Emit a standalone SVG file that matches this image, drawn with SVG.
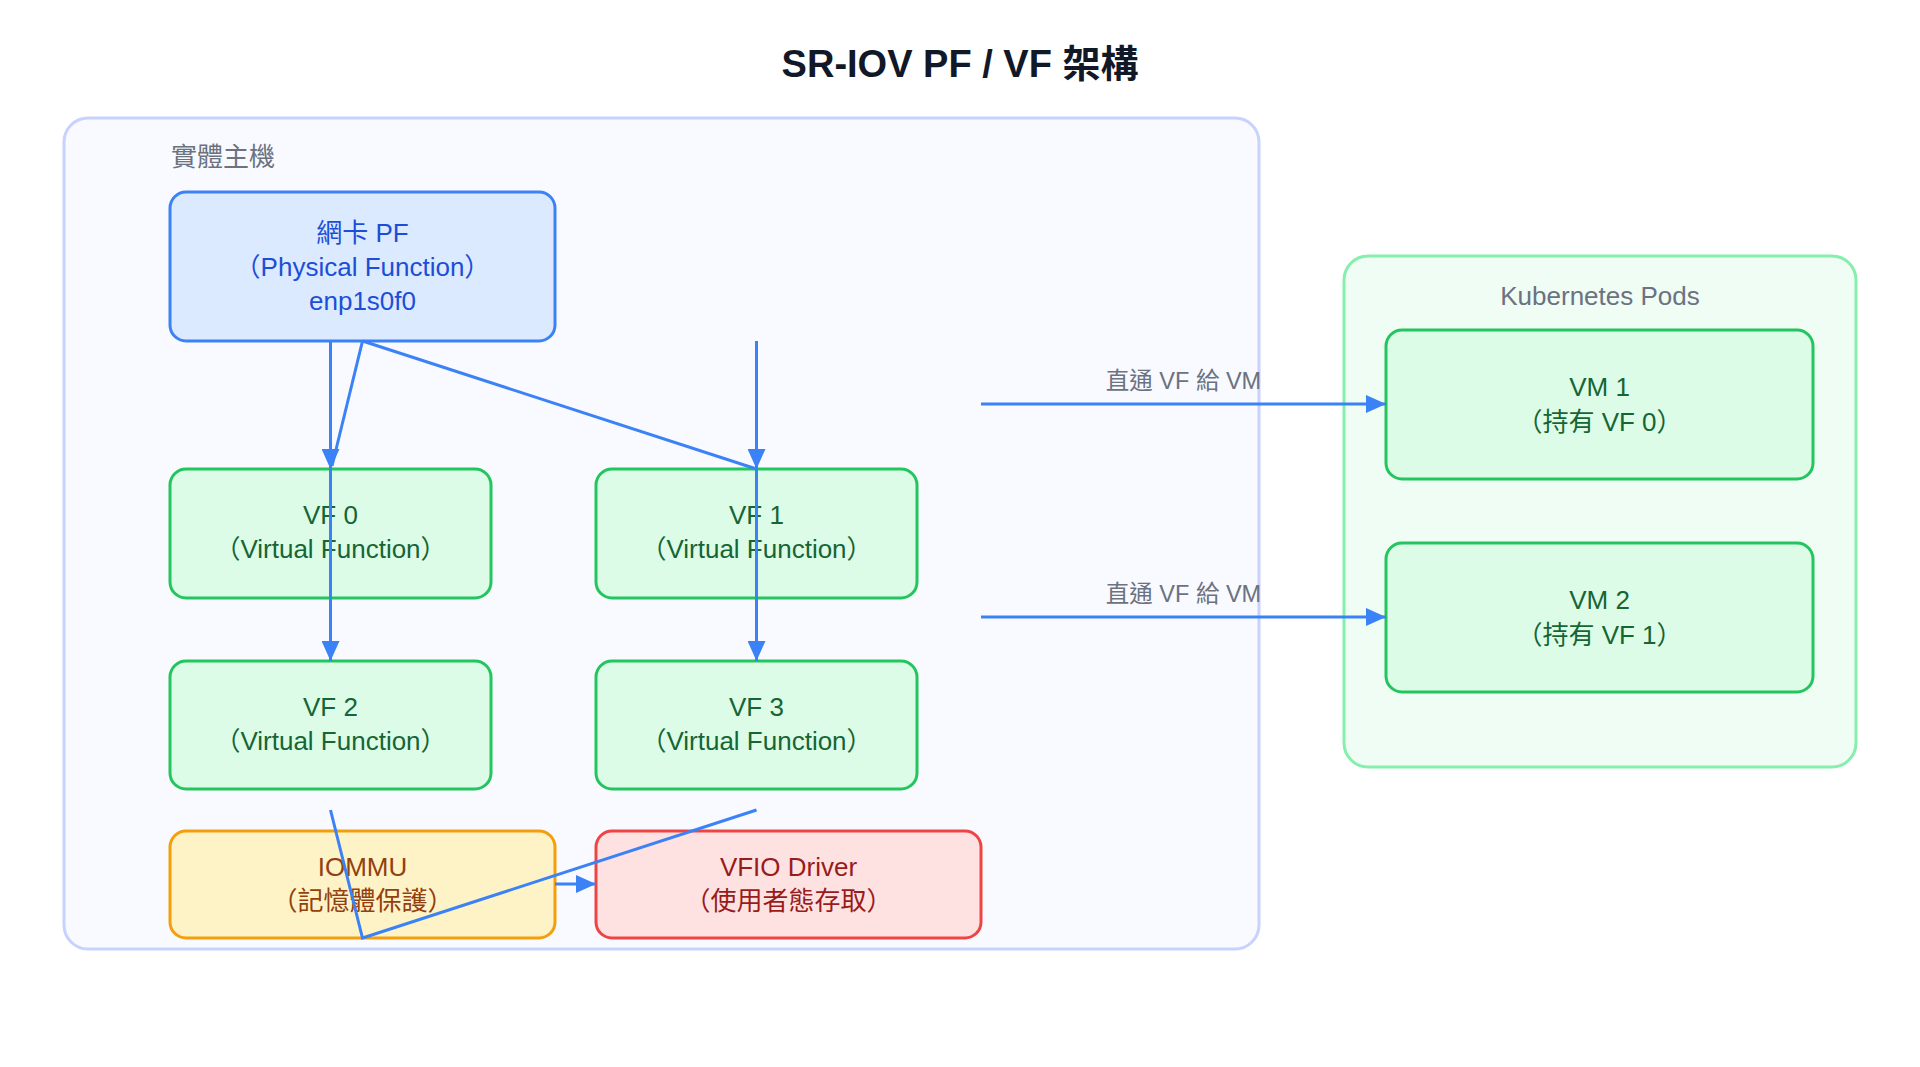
<svg xmlns="http://www.w3.org/2000/svg" width="1920" height="1067" viewBox="0 0 1920 1067">
<defs>
<style>
text{font-family:"Liberation Sans","Noto Sans CJK TC",sans-serif;text-anchor:middle}
.title{font-size:38px;font-weight:bold;fill:#111827}
.glabel{font-size:26px;fill:#6b7280}
.elabel{font-size:23.5px;fill:#6b7280}
.nt{font-size:26px}
.blue rect{fill:#dbeafe;stroke:#3b82f6;stroke-width:3}
.blue text{fill:#1d4ed8}
.green rect{fill:#dcfce7;stroke:#22c55e;stroke-width:3}
.green text{fill:#166534}
.amber rect{fill:#fef3c7;stroke:#f59e0b;stroke-width:3}
.amber text{fill:#92400e}
.red rect{fill:#fee2e2;stroke:#ef4444;stroke-width:3}
.red text{fill:#991b1b}
.edge{fill:none;stroke:#3b82f6;stroke-width:3}
</style>
<marker id="ah" markerUnits="userSpaceOnUse" markerWidth="20" markerHeight="18" refX="20" refY="9" orient="auto">
<path d="M0,0 L20,9 L0,18 z" fill="#3b82f6"/>
</marker>
</defs>
<rect width="1920" height="1067" fill="#ffffff"/>
<text class="title" x="960" y="77">SR-IOV PF / VF 架構</text>

<g id="host">
<rect x="64" y="118" width="1195" height="831" rx="24" fill="#f8faff" stroke="#c7d2fe" stroke-width="3"/>
<text class="glabel" x="171" y="166" style="text-anchor:start">實體主機</text>
</g>
<g id="k8s">
<rect x="1344" y="256" width="512" height="511" rx="24" fill="#effdf4" stroke="#86efac" stroke-width="3"/>
<text class="glabel" x="1600" y="305">Kubernetes Pods</text>
</g>

<g id="pf" class="blue">
<rect x="170" y="192" width="385" height="149" rx="16"/>
<text class="nt" x="362.5" y="242">網卡 PF</text>
<text class="nt" x="362.5" y="276">（Physical Function）</text>
<text class="nt" x="362.5" y="310">enp1s0f0</text>
</g>
<g id="vf0" class="green">
<rect x="170" y="469" width="321" height="129" rx="16"/>
<text class="nt" x="330.5" y="524">VF 0</text>
<text class="nt" x="330.5" y="558">（Virtual Function）</text>
</g>
<g id="vf1" class="green">
<rect x="596" y="469" width="321" height="129" rx="16"/>
<text class="nt" x="756.5" y="524">VF 1</text>
<text class="nt" x="756.5" y="558">（Virtual Function）</text>
</g>
<g id="vf2" class="green">
<rect x="170" y="661" width="321" height="128" rx="16"/>
<text class="nt" x="330.5" y="716">VF 2</text>
<text class="nt" x="330.5" y="750">（Virtual Function）</text>
</g>
<g id="vf3" class="green">
<rect x="596" y="661" width="321" height="128" rx="16"/>
<text class="nt" x="756.5" y="716">VF 3</text>
<text class="nt" x="756.5" y="750">（Virtual Function）</text>
</g>
<g id="iommu" class="amber">
<rect x="170" y="831" width="385" height="107" rx="16"/>
<text class="nt" x="362.5" y="876">IOMMU</text>
<text class="nt" x="362.5" y="910">（記憶體保護）</text>
</g>
<g id="vfio" class="red">
<rect x="596" y="831" width="385" height="107" rx="16"/>
<text class="nt" x="788.5" y="876">VFIO Driver</text>
<text class="nt" x="788.5" y="910">（使用者態存取）</text>
</g>
<g id="vm1" class="green">
<rect x="1386" y="330" width="427" height="149" rx="16"/>
<text class="nt" x="1599.5" y="396">VM 1</text>
<text class="nt" x="1599.5" y="431">（持有 VF 0）</text>
</g>
<g id="vm2" class="green">
<rect x="1386" y="543" width="427" height="149" rx="16"/>
<text class="nt" x="1599.5" y="609">VM 2</text>
<text class="nt" x="1599.5" y="644">（持有 VF 1）</text>
</g>

<g id="connectors">
<path class="edge" d="M330.5,341 L330.5,469" marker-end="url(#ah)"/>
<path class="edge" d="M362.5,341 L332,466"/>
<path class="edge" d="M330.5,469 L330.5,661" marker-end="url(#ah)"/>
<path class="edge" d="M362.5,341 L756.5,469"/>
<path class="edge" d="M756.5,341 L756.5,469" marker-end="url(#ah)"/>
<path class="edge" d="M756.5,469 L756.5,661" marker-end="url(#ah)"/>
<path class="edge" d="M330.5,810 L362.5,938 L756.5,810"/>
<path class="edge" d="M555,884 L596,884" marker-end="url(#ah)"/>
<path class="edge" d="M981,404 L1386,404" marker-end="url(#ah)"/>
<path class="edge" d="M981,617 L1386,617" marker-end="url(#ah)"/>
<text class="elabel" x="1183.5" y="389">直通 VF 給 VM</text>
<text class="elabel" x="1183.5" y="602">直通 VF 給 VM</text>
</g>
</svg>
